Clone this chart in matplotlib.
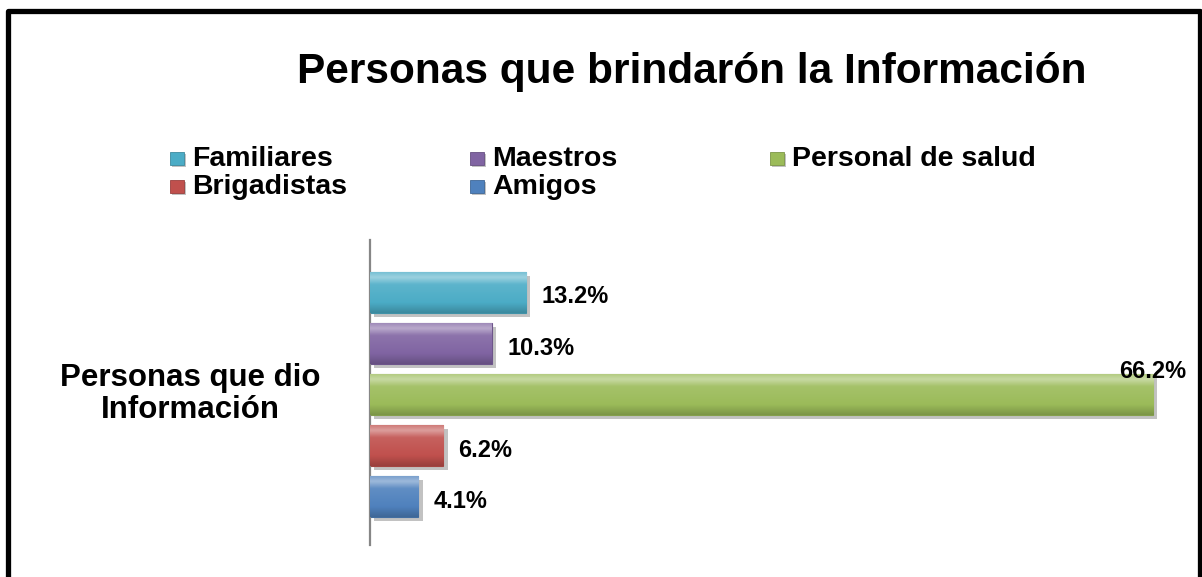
import matplotlib
matplotlib.use("Agg")
import matplotlib.pyplot as plt
import matplotlib.patches as mpatches
import matplotlib.patheffects as pe
from matplotlib.colors import LinearSegmentedColormap, to_rgb
import numpy as np

categories = ["Familiares", "Maestros", "Personal de salud", "Brigadistas", "Amigos"]
values = [13.2, 10.3, 66.2, 6.2, 4.1]
value_labels = ["13.2%", "10.3%", "66.2%", "6.2%", "4.1%"]
colors = ["#4BACC6", "#8064A2", "#9BBB59", "#C0504D", "#4F81BD"]
title = "Personas que brindarón la Información"
group_label = "Personas que dio\nInformación"

W, H = 1202, 577
fig = plt.figure(figsize=(W / 100, H / 100), dpi=100)
fig.patch.set_facecolor("white")

def fx(px):
    return px / W

def fy(py):
    return 1 - py / H

# outer frame (bottom edge outside the picture)
frame = mpatches.Rectangle((fx(7.5), -0.1), fx(1200) - fx(7.5), fy(10.5) + 0.1,
                           transform=fig.transFigure, fill=False, edgecolor="black",
                           linewidth=3.8, joinstyle="round")
fig.patches.append(frame)

ax = fig.add_axes([fx(370), fy(545), fx(1198) - fx(370), (545 - 240) / H])
y = np.arange(len(categories))

def lighten(c, f):
    r = np.array(to_rgb(c))
    return tuple(r + (1 - r) * f)

def darken(c, f):
    r = np.array(to_rgb(c))
    return tuple(r * f)

bars = ax.barh(y, values, height=0.8, color=colors, zorder=2,
               path_effects=[pe.SimplePatchShadow(offset=(3, -3), shadow_rgbFace="#9a9a9a", alpha=0.6),
                             pe.Normal()])

for b, c in zip(bars, colors):
    x0, y0 = b.get_x(), b.get_y()
    w, h = b.get_width(), b.get_height()
    cmap = LinearSegmentedColormap.from_list(
        "g", [(0.0, lighten(c, 0.25)), (0.12, lighten(c, 0.45)), (0.3, lighten(c, 0.1)),
              (0.75, c), (1.0, darken(c, 0.8))])
    grad = np.linspace(0, 1, 64).reshape(-1, 1)
    im = ax.imshow(grad, cmap=cmap, extent=[x0, x0 + w, y0 + h, y0], aspect="auto",
                   zorder=3, interpolation="bicubic")
    im.set_clip_path(b)
    b.set_edgecolor(darken(c, 0.85))
    b.set_linewidth(0.8)

ax.set_xlim(0, 70)
ax.set_ylim(4.95, -1.02)
ax.set_aspect("auto")

for i, (v, lab) in enumerate(zip(values, value_labels)):
    if v == max(values):
        ax.annotate(lab, (v, y[i]), xytext=(0, 16.5), textcoords="offset points",
                    ha="center", va="center", fontsize=17, fontweight="bold",
                    family="Liberation Sans", zorder=5)
    else:
        ax.annotate(lab, (v, y[i]), xytext=(11, -3.5), textcoords="offset points",
                    ha="left", va="center", fontsize=17, fontweight="bold",
                    family="Liberation Sans", zorder=5)

for s in ["top", "right", "bottom"]:
    ax.spines[s].set_visible(False)
ax.spines["left"].set_color("#868686")
ax.spines["left"].set_linewidth(1.6)
ax.set_xticks([])
ax.set_yticks([])
ax.patch.set_alpha(0)

# category label
fig.text(fx(190), fy(394), group_label, ha="center", va="center", multialignment="center",
         fontsize=22.5, fontweight="bold", family="Liberation Sans", linespacing=1.08)

# title
fig.text(fx(692), fy(83), title, ha="center", va="baseline", fontsize=30.5,
         fontweight="bold", family="Liberation Sans")

# legend (row-major, 3 columns)
col_x = [170, 470, 770]
row_base = [166, 194]
for i, (lab, c) in enumerate(zip(categories, colors)):
    r, cc = divmod(i, 3)
    mx = col_x[cc]
    my = row_base[r]
    sq = mpatches.Rectangle((fx(mx), fy(my - 1)), fx(14), 13 / H, transform=fig.transFigure,
                            facecolor=c, edgecolor=darken(c, 0.8), linewidth=0.6,
                            path_effects=[pe.SimplePatchShadow(offset=(1.5, -1.5), shadow_rgbFace="#9a9a9a", alpha=0.6),
                                          pe.Normal()])
    fig.patches.append(sq)
    fig.text(fx(mx + 22), fy(my), lab, ha="left", va="baseline", fontsize=20.5,
             fontweight="bold", family="Liberation Sans")

fig.savefig("out.png", dpi=100, facecolor="white")
